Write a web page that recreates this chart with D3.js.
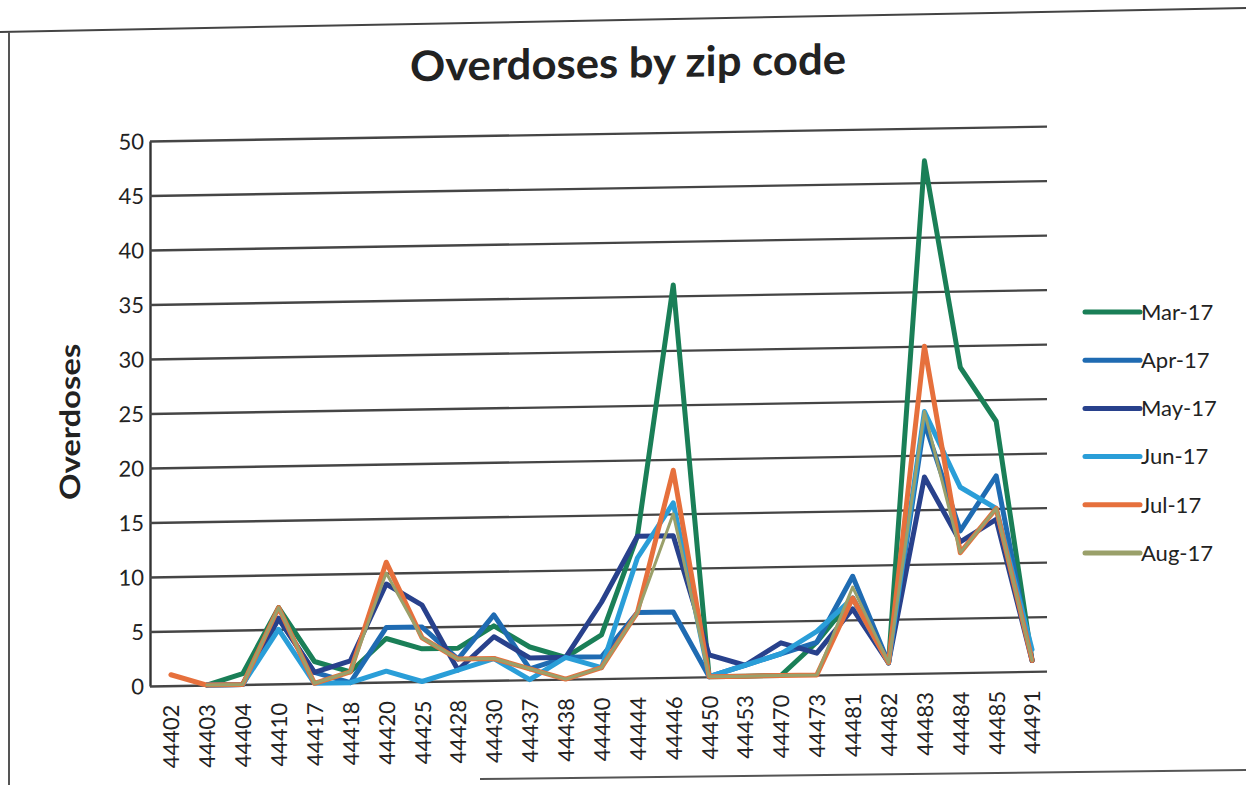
<!DOCTYPE html>
<html>
<head>
<meta charset="utf-8">
<script src="https://cdn.jsdelivr.net/npm/d3@7"></script>
<style>
  body { margin: 0; background: #fff; }
  svg { display: block; font-family: Lato, "Open Sans", sans-serif; }
  text { font-family: Lato, "Open Sans", sans-serif; }
  .grid line { stroke: #454545; stroke-width: 2.4; }
  .grid .domain { stroke: #333; stroke-width: 2.4; }
  .grid text { font-size: 22px; fill: #222; }
  .xaxis text { font-size: 22px; fill: #222; }
  .series { fill: none; stroke-linejoin: round; stroke-linecap: round; }
  .legend text { font-size: 22px; fill: #222; }
</style>
</head>
<body>
<svg width="1246" height="785"></svg>
<script>
// zip codes along the x axis
var zips = ["44402","44403","44404","44410","44417","44418","44420","44425","44428","44430",
	"44437","44438","44440","44444","44446","44450","44453","44470","44473","44481",
	"44482","44483","44484","44485","44491"]

var months = ["Mar-17","Apr-17","May-17","Jun-17","Jul-17","Aug-17"]
var colors = ["#1a7f57","#1f6bb2","#28418c","#2a9ed8","#e6703c","#9aa06a"]
var widths = [5, 5, 5, 5, 5, 3]

// values, one per zip (null = no point)
var mar17 = [null,0,1,7,2,1,4,3,3,5,3,2,4,13,36,0,0,0,3,7,1,47,28,23,1]
var apr17 = [null,0,0,6,1,0,5,5,2,6,1,2,2,6,6,0,1,2,3,9,1,23,13,18,1]
var may17 = [null,0,0,6,1,2,9,7,1,4,2,2,7,13,13,2,1,3,2,6,1,18,12,14,1]
var jun17 = [null,0,0,5,0,0,1,0,1,2,0,2,1,11,16,0,1,2,4,7,1,24,17,15,2]
var jul17 = [1,0,0,7,0,1,11,4,2,2,1,0,1,6,19,0,0,0,0,7,1,30,11,15,1]
var aug17 = [null,0,0,7,0,1,10,4,2,2,1,0,1,6,15,0,0,0,0,8,1,24,11,15,1]

var yTicks = [0,5,10,15,20,25,30,35,40,45,50]

var seriesVals = [mar17, apr17, may17, jun17, jul17, aug17]

var svg = d3.select("svg")

// scanned page frame (slightly tilted)
svg.append("line").attr("x1",0).attr("y1",32).attr("x2",1246).attr("y2",8)
	.attr("stroke","#444").attr("stroke-width",2)
svg.append("line").attr("x1",9).attr("y1",32).attr("x2",9).attr("y2",785)
	.attr("stroke","#555").attr("stroke-width",2)
svg.append("line").attr("x1",480).attr("y1",779).attr("x2",1246).attr("y2",770)
	.attr("stroke","#555").attr("stroke-width",2)

// whole chart is skewed a little like the scan
var chart = svg.append("g").attr("transform", "skewY(-0.95)")

var plotLeft = 150, plotRight = 1047, plotBottom = 688.5, plotTop = 143.5

var x = d3.scalePoint()
	.domain(zips)
	.range([153, 1050])
	.padding(0.5)

var y = d3.scaleLinear()
	.domain([0, 50])
	.range([plotBottom, plotTop])

chart.append("text")
	.attr("x", 628)
	.attr("y", 88)
	.attr("text-anchor", "middle")
	.attr("font-weight", "bold")
	.attr("font-size", 42)
	.attr("fill", "#222")
	.attr("textLength", 436)
	.attr("lengthAdjust", "spacingAndGlyphs")
	.text("Overdoses by zip code")

var grid = chart.append("g")
	.attr("class", "grid")
	.attr("transform", "translate(" + plotLeft + ",0)")
	.call(d3.axisLeft(y).tickValues(yTicks)
		.tickSize(-(plotRight - plotLeft)).tickSizeOuter(0).tickPadding(6))
grid.attr("font-family", null)
grid.selectAll("text").attr("dy", "0.35em")

var xAxis = chart.append("g")
	.attr("class", "xaxis")
	.attr("transform", "translate(0," + plotBottom + ")")
	.call(d3.axisBottom(x).tickSize(0))
xAxis.attr("font-family", null)
xAxis.select(".domain").remove()
xAxis.selectAll("text")
	.attr("transform", "rotate(-90)")
	.attr("text-anchor", "end")
	.attr("x", -19)
	.attr("y", 0)
	.attr("dy", "0.36em")

chart.append("text")
	.attr("transform", "translate(80,423) rotate(-90)")
	.attr("text-anchor", "middle")
	.attr("font-weight", "bold")
	.attr("font-size", 28)
	.attr("fill", "#222")
	.attr("textLength", 156)
	.attr("lengthAdjust", "spacingAndGlyphs")
	.text("Overdoses")

var line = d3.line()
	.defined(function(d) { return d != null })
	.x(function(d, i) { return x(zips[i]) })
	.y(function(d) { return y(d) })

chart.append("g").selectAll("path")
	.data(seriesVals)
	.enter().append("path")
	.attr("class", "series")
	.style("stroke", function(d, i) { return colors[i] })
	.style("stroke-width", function(d, i) { return widths[i] })
	.attr("d", line)

var legend = svg.append("g").attr("class", "legend")
months.forEach(function(m, i) {
	var ly = 312 + i * 48.2
	legend.append("line")
		.attr("x1", 1085).attr("x2", 1140)
		.attr("y1", ly).attr("y2", ly)
		.attr("stroke", colors[i])
		.attr("stroke-width", 5)
		.attr("stroke-linecap", "round")
	legend.append("text")
		.attr("x", 1141)
		.attr("y", ly)
		.attr("dy", "0.35em")
		.text(m)
})
</script>
</body>
</html>
